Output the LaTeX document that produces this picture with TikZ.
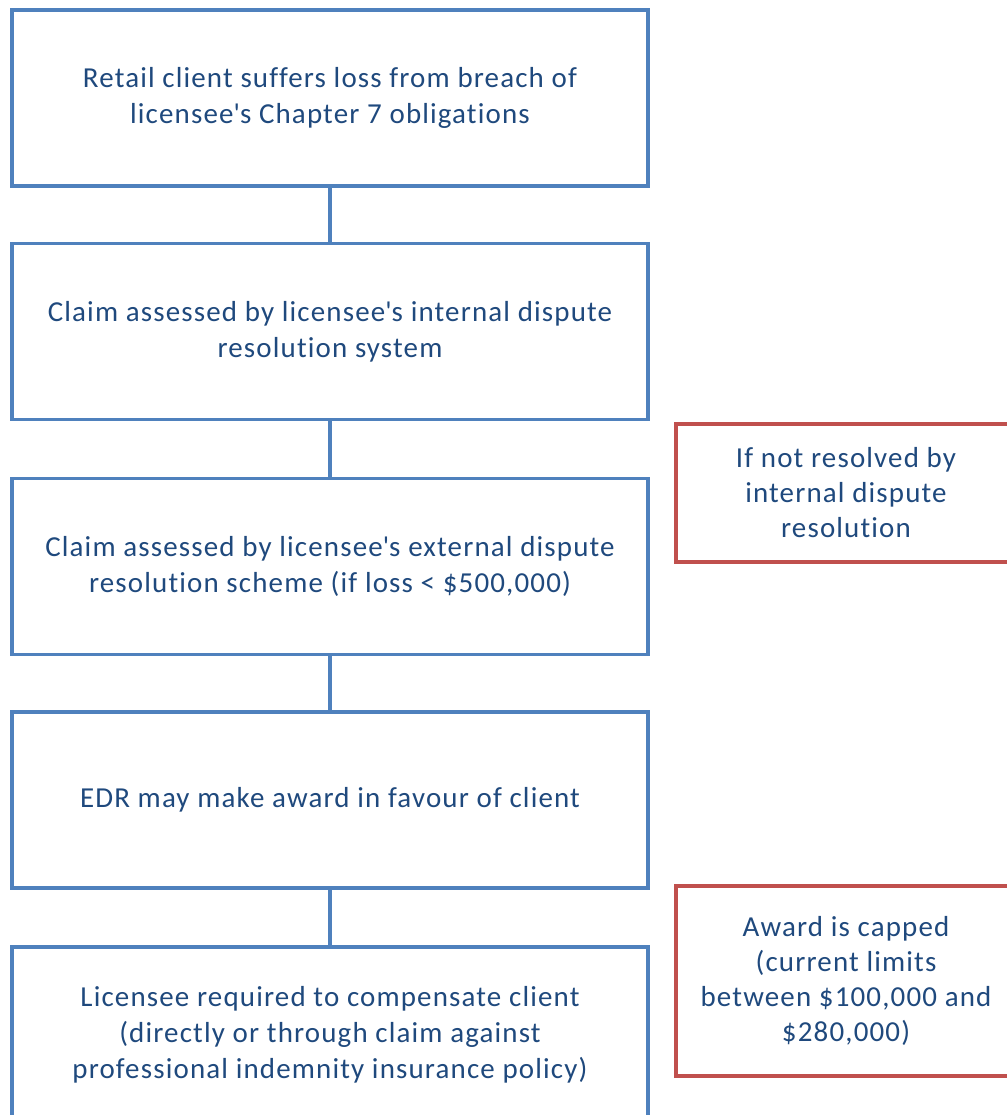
\documentclass[tikz,border=0pt]{standalone}
\usepackage{fontspec}
\setmainfont{Carlito}[LetterSpace=4, Ligatures=NoCommon]
\usepackage{xcolor}
\usepackage{tikz}
\usetikzlibrary{positioning, calc}

\definecolor{stepblue}{HTML}{4F81BD}
\definecolor{notered}{HTML}{C0504D}
\definecolor{textblue}{HTML}{1F497D}

\begin{document}
\begin{tikzpicture}[
        stage/.style={draw=stepblue, line width=2.2pt, rectangle, minimum width=15.9cm, minimum height=4.4cm, align=center, text=textblue, font=\fontsize{20.6}{25.6}\selectfont},
        note/.style={draw=notered, line width=2.2pt, rectangle, minimum width=8.5cm, align=center, text=textblue, font=\fontsize{20.6}{24.9}\selectfont},
        link/.style={draw=stepblue, line width=2.2pt}
    ]
    \useasboundingbox (0,0) rectangle (25.175,-27.875);

    % --- Main stages ---
    \node[stage] (S1) at (8.25, -2.45) {Retail client suffers loss from breach of\\licensee\textquotesingle s Chapter 7 obligations};
    \node[stage] (S2) at (8.25, -8.29) {Claim assessed by licensee\textquotesingle s internal dispute\\resolution system};
    \node[stage] (S3) at (8.25, -14.16) {Claim assessed by licensee\textquotesingle s external dispute\\resolution scheme (if loss < \$500,000)};
    \node[stage] (S4) at (8.25, -20.0) {EDR may make award in favour of client};
    \node[stage] (S5) at (8.25, -25.875) {Licensee required to compensate client\\(directly or through claim against\\professional indemnity insurance policy)};

    % --- Side notes ---
    \node[note, minimum height=3.45cm] (N1) at (21.15, -12.325) {If not resolved by\\internal dispute\\resolution};
    \node[note, minimum height=4.75cm] (N2) at (21.15, -24.525) {Award is capped\\(current limits\\between \$100,000 and\\\$280,000)};

    % --- Connectors ---
    \draw[link] (S1) -- (S2);
    \draw[link] (S2) -- (S3);
    \draw[link] (S3) -- (S4);
    \draw[link] (S4) -- (S5);

\end{tikzpicture}
\end{document}
